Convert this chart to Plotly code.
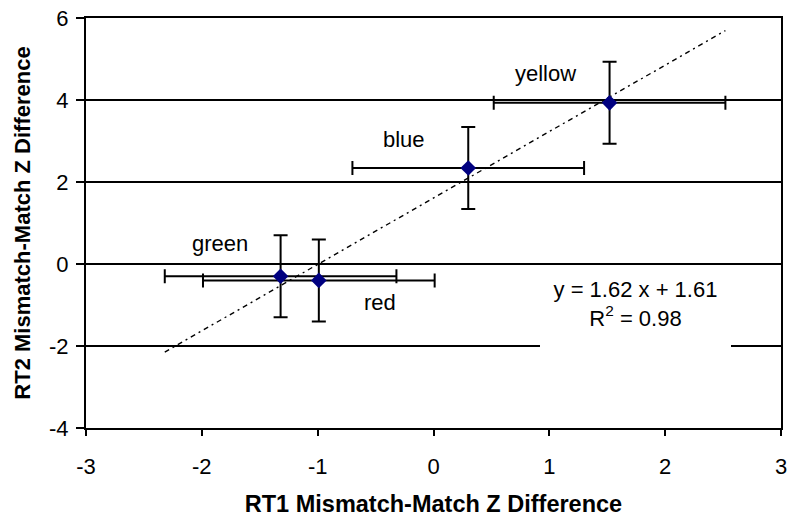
import plotly.graph_objects as go

# ---- data ----
names = ["green", "red", "blue", "yellow"]
rt1 = [-1.32, -0.99, 0.30, 1.52]          # x: RT1 mismatch-match Z difference
rt2 = [-0.30, -0.40, 2.34, 3.93]          # y: RT2 mismatch-match Z difference
rt1_err = [1.0, 1.0, 1.0, 1.0]
rt2_err = [1.0, 1.0, 1.0, 1.0]

slope = 1.62
intercept = 1.61
r_squared = 0.98
forecast = 1.0   # trendline extended by this much beyond the data on each side

x_ticks = [-3, -2, -1, 0, 1, 2, 3]
y_ticks = [-4, -2, 0, 2, 4, 6]

# label offsets in pixels (position, not data)
label_shift = {"green": (-61, 33), "red": (61, -22), "blue": (-64, 29), "yellow": (-64, 29)}

FONT = "Liberation Sans, Arial, sans-serif"
FS = 22

fig = go.Figure()

# trendline
tx0 = min(rt1) - forecast
tx1 = max(rt1) + forecast
fig.add_trace(go.Scatter(
    x=[tx0, tx1], y=[slope * tx0 + intercept, slope * tx1 + intercept],
    mode="lines", line=dict(color="black", width=1.4, dash="5px,4px,2px,4px"),
    hoverinfo="skip", showlegend=False))

# points with error bars
fig.add_trace(go.Scatter(
    x=rt1, y=rt2, mode="markers",
    marker=dict(symbol="diamond", size=12, color="#000080"),
    error_x=dict(type="data", array=rt1_err, visible=True, color="black", thickness=2, width=7),
    error_y=dict(type="data", array=rt2_err, visible=True, color="black", thickness=2, width=7),
    showlegend=False))

for n, xv, yv in zip(names, rt1, rt2):
    dx, dy = label_shift[n]
    fig.add_annotation(x=xv, y=yv, text=n, showarrow=False, xshift=dx, yshift=dy,
                       font=dict(family=FONT, size=FS, color="black"))

fig.add_annotation(
    x=1.74, y=-0.2, xref="x", yref="y", xanchor="center", yanchor="top",
    text=f"y = {slope:.2f} x + {intercept:.2f}<br>R<sup>2</sup> = {r_squared:.2f}",
    showarrow=False, align="center", valign="top",
    width=181, height=80, borderpad=5, borderwidth=0, bgcolor="white",
    font=dict(family=FONT, size=FS, color="black"))

fig.update_layout(
    width=790, height=517,
    margin=dict(l=86, r=9, t=18, b=89),
    paper_bgcolor="white", plot_bgcolor="white",
    font=dict(family=FONT, size=FS, color="black"),
    xaxis=dict(
        range=[-3, 3], tickvals=x_ticks, ticktext=[str(v) for v in x_ticks],
        ticks="outside", ticklen=6, tickwidth=2, tickcolor="black",
        ticklabelstandoff=12, automargin=False,
        showline=True, linewidth=2, linecolor="black", mirror=True,
        showgrid=False, zeroline=False,
        tickfont=dict(family=FONT, size=FS),
        title=dict(text="<b>RT1 Mismatch-Match Z Difference</b>", standoff=22,
                   font=dict(family=FONT, size=23.5)),
    ),
    yaxis=dict(
        range=[-4, 6], tickvals=y_ticks, ticktext=[str(v) for v in y_ticks],
        ticks="outside", ticklen=8, tickwidth=2, tickcolor="black",
        ticklabelstandoff=3, automargin=False,
        showline=True, linewidth=2, linecolor="black", mirror=True,
        showgrid=True, gridcolor="black", gridwidth=1.6,
        zeroline=True, zerolinecolor="black", zerolinewidth=1.6,
        tickfont=dict(family=FONT, size=FS),
        title=dict(text="<b>RT2 Mismatch-Match Z Difference</b>", standoff=12,
                   font=dict(family=FONT, size=FS)),
    ),
)

fig.write_html("out.html")
